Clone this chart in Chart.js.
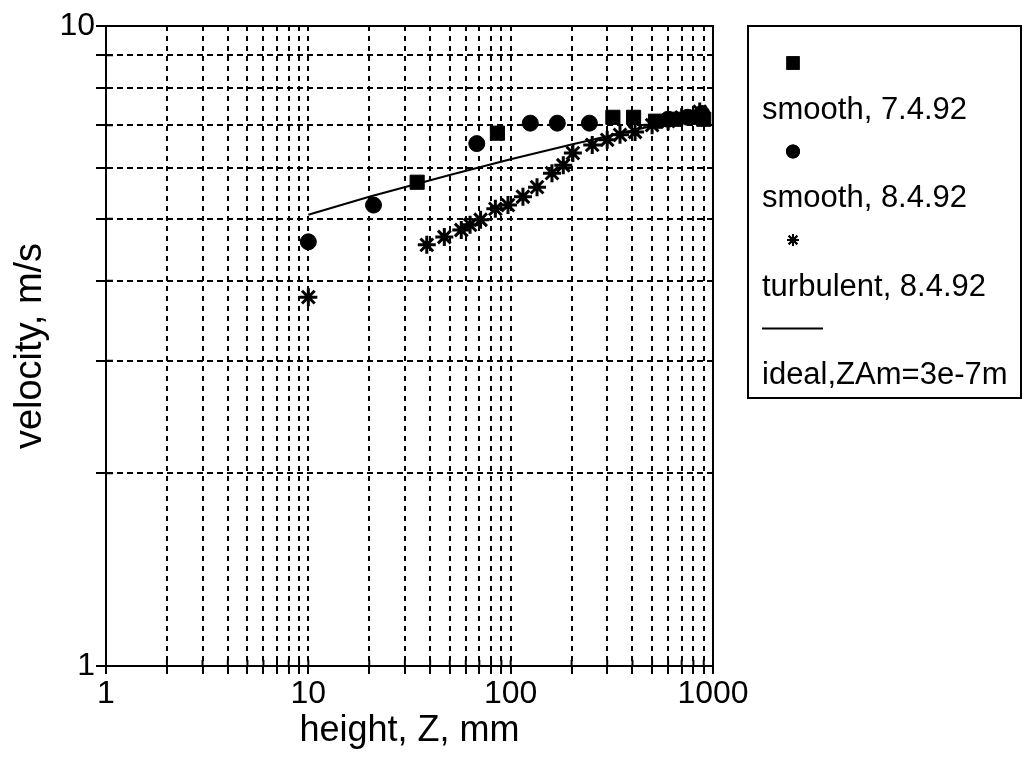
<!DOCTYPE html>
<html>
<head>
<meta charset="utf-8">
<script src="https://cdn.jsdelivr.net/npm/chart.js@4/dist/chart.umd.min.js"></script>
<style>
  html, body { margin: 0; padding: 0; background: #fff; }
  #graphique { display: block; }
</style>
</head>
<body>
<canvas id="graphique" width="1024" height="759"></canvas>
<script>
// values (height in mm, velocity in m/s)
const smooth7 = [[34.5, 5.7], [86, 6.8], [320, 7.2], [405, 7.2], [520, 7.1], [650, 7.15], [800, 7.2], [900, 7.15]]
const smooth8 = [[10, 4.6], [21, 5.25], [68, 6.55], [125, 7.05], [170, 7.05], [245, 7.05], [600, 7.15], [750, 7.2], [880, 7.3]]
const turbulent = [[10, 3.77], [38.5, 4.55], [47, 4.68], [57, 4.8], [63, 4.89], [71, 4.98], [84, 5.18], [97, 5.25],
    [115, 5.41], [135, 5.6], [160, 5.89], [182, 6.06], [203, 6.33], [253, 6.52], [300, 6.64], [347, 6.76],
    [412, 6.83], [500, 7.0], [600, 7.1], [700, 7.2], [860, 7.35]]
const ideal = [[10, 5.07], [20, 5.41], [50, 5.85], [100, 6.19], [200, 6.53], [500, 6.98], [900, 7.27]]

const labels = ["smooth, 7.4.92", "smooth, 8.4.92", "turbulent, 8.4.92", "ideal,ZAm=3e-7m"]
const xTicks = [1, 2, 3, 4, 5, 6, 7, 8, 9, 10, 20, 30, 40, 50, 60, 70, 80, 90, 100, 200, 300, 400, 500, 600, 700, 800, 900, 1000]
const yTicks = [1, 2, 3, 4, 5, 6, 7, 8, 9, 10]

const font = "'Liberation Sans', Arial, sans-serif"

function pts(list) {
    return list.map(p => ({x: p[0], y: p[1]}))
}

function decadeLabel(v) {
    let l = Math.log10(v)
    return Math.abs(l - Math.round(l)) < 1e-9 ? String(v) : ""
}

const frame = {
    id: "frame",
    afterDraw(chart) {
        const ctx = chart.ctx
        const a = chart.chartArea
        ctx.save()
        ctx.strokeStyle = "#000"
        ctx.lineWidth = 2
        ctx.strokeRect(a.left, a.top, a.right - a.left, a.bottom - a.top)

        // ticks also poke a little into the plot
        ctx.beginPath()
        chart.scales.x.ticks.forEach(t => {
            let px = chart.scales.x.getPixelForValue(t.value)
            ctx.moveTo(px, a.bottom)
            ctx.lineTo(px, a.bottom - 6)
        })
        chart.scales.y.ticks.forEach(t => {
            let py = chart.scales.y.getPixelForValue(t.value)
            ctx.moveTo(a.left, py)
            ctx.lineTo(a.left + 7, py)
        })
        ctx.stroke()

        // legend: marker on one line, label below it
        ctx.strokeRect(748, 26, 273, 372)
        ctx.font = "31px " + font
        ctx.textBaseline = "middle"
        ctx.textAlign = "left"
        chart.data.datasets.forEach((ds, i) => {
            let y = 63 + i * 88.5
            ctx.fillStyle = "#000"
            if (ds.showLine) {
                ctx.lineWidth = 2
                ctx.beginPath()
                ctx.moveTo(762, y)
                ctx.lineTo(823, y)
                ctx.stroke()
            } else {
                Chart.helpers.drawPoint(ctx, {
                    pointStyle: ds.pointStyle,
                    radius: ds.pointStyle == "rect" ? 8 : 6,
                    rotation: 0,
                    borderWidth: ds.pointBorderWidth
                }, 793, y)
                ctx.fill()
                ctx.stroke()
            }
            ctx.fillText(ds.label, 762, y + 47)
        })
        ctx.restore()
    }
}

const cvs = document.getElementById("graphique")
new Chart(cvs, {
    type: "scatter",
    data: {
        datasets: [{
            label: labels[0],
            data: pts(smooth7),
            pointStyle: "rect",
            pointRadius: 10,
            pointBorderWidth: 1,
            backgroundColor: "#000",
            borderColor: "#000"
        }, {
            label: labels[1],
            data: pts(smooth8),
            pointStyle: "circle",
            pointRadius: 8,
            pointBorderWidth: 1,
            backgroundColor: "#000",
            borderColor: "#000"
        }, {
            label: labels[2],
            data: pts(turbulent),
            pointStyle: "star",
            pointRadius: 9,
            pointBorderWidth: 3,
            backgroundColor: "#000",
            borderColor: "#000"
        }, {
            label: labels[3],
            data: pts(ideal),
            showLine: true,
            pointRadius: 0,
            borderWidth: 2,
            tension: 0,
            borderColor: "#000"
        }]
    },
    options: {
        responsive: false,
        animation: false,
        layout: {padding: {left: 0, top: 26, right: 311, bottom: 0}},
        plugins: {legend: {display: false}, tooltip: {enabled: false}},
        scales: {
            x: {
                type: "logarithmic",
                min: 1,
                max: 1000,
                afterBuildTicks: s => { s.ticks = xTicks.map(v => ({value: v})) },
                afterFit: s => { s.height = 93 },
                ticks: {
                    color: "#000",
                    font: {family: font, size: 32},
                    padding: 1,
                    maxRotation: 0,
                    autoSkip: false,
                    callback: v => decadeLabel(v)
                },
                grid: {color: "#000", lineWidth: 2, tickLength: 8, tickColor: "#000", tickWidth: 2},
                border: {display: true, color: "#000", width: 2, dash: [5, 5]},
                title: {display: true, text: "height, Z, mm", color: "#000", font: {family: font, size: 36}, padding: {top: 0, bottom: 6}}
            },
            y: {
                type: "logarithmic",
                min: 1,
                max: 10,
                afterBuildTicks: s => { s.ticks = yTicks.map(v => ({value: v})) },
                afterFit: s => { s.width = 106 },
                ticks: {
                    color: "#000",
                    font: {family: font, size: 32},
                    padding: 1,
                    autoSkip: false,
                    callback: v => decadeLabel(v)
                },
                grid: {color: "#000", lineWidth: 2, tickLength: 10, tickColor: "#000", tickWidth: 2},
                border: {display: true, color: "#000", width: 2, dash: [6, 4]},
                title: {display: true, text: "velocity, m/s", color: "#000", font: {family: font, size: 38}, padding: {top: 8, bottom: 0}}
            }
        }
    },
    plugins: [frame]
})
</script>
</body>
</html>
